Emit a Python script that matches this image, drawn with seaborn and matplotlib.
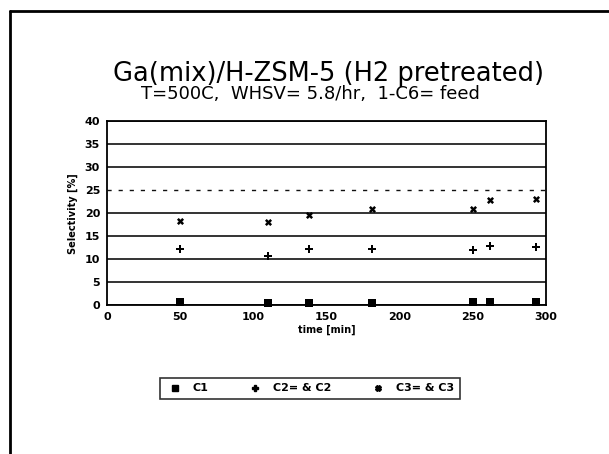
import matplotlib
matplotlib.use("Agg")
import matplotlib.pyplot as plt
from matplotlib.lines import Line2D
import seaborn as sns
import pandas as pd

# Sampling times (min)
time_min = [50, 110, 138, 181, 250, 262, 293]

# Selectivities (%)
c1 = [0.6, 0.5, 0.5, 0.5, 0.6, 0.6, 0.6]
c2 = [12.2, 10.8, 12.2, 12.2, 11.9, 12.9, 12.6]
c3 = [18.3, 18.2, 19.7, 20.9, 21.0, 22.9, 23.2]

series_names = ["C1", "C2= & C2", "C3= & C3"]
x_ticks = [0, 50, 100, 150, 200, 250, 300]
y_ticks = [0, 5, 10, 15, 20, 25, 30, 35, 40]

df = pd.DataFrame({
    "time": time_min * 3,
    "sel": c1 + c2 + c3,
    "series": [series_names[0]] * len(c1) + [series_names[1]] * len(c2) + [series_names[2]] * len(c3),
})

sns.set_style("white")
plt.rcParams["font.family"] = ["DejaVu Sans"]
plt.rcParams["text.color"] = "black"
plt.rcParams["axes.labelcolor"] = "black"

fig = plt.figure(figsize=(6.09, 4.54), dpi=100)
ax = fig.add_axes([0.1757, 0.328, 0.7209, 0.4044])

markers = {series_names[0]: "s", series_names[1]: "P", series_names[2]: "X"}
sizes = {series_names[0]: 32, series_names[1]: 28, series_names[2]: 26}
for name in series_names:
    sub = df[df["series"] == name]
    sns.scatterplot(data=sub, x="time", y="sel", ax=ax, color="black",
                    marker=markers[name], s=sizes[name], linewidth=0,
                    label=name, zorder=5, clip_on=False)

ax.set_xlim(0, 300)
ax.set_ylim(0, 40)
ax.set_xticks(x_ticks)
ax.set_yticks(y_ticks)
ax.tick_params(axis="both", direction="inout", length=6, width=1.2,
               labelsize=8, colors="black", pad=2)
for lab in ax.get_xticklabels() + ax.get_yticklabels():
    lab.set_fontweight("bold")

ax.yaxis.grid(True, color="#111111", linewidth=1.2)
ax.xaxis.grid(False)
gl = ax.yaxis.get_gridlines()
gl[5].set_linestyle((0, (3, 5)))
gl[5].set_linewidth(1.0)
ax.set_axisbelow(True)

for side in ["left", "bottom", "right", "top"]:
    ax.spines[side].set_visible(True)
    ax.spines[side].set_color("black")
    ax.spines[side].set_linewidth(1.3)

ax.set_xlabel("time [min]", fontsize=7, fontweight="bold", labelpad=2)
ax.set_ylabel("Selectivity [%]", fontsize=7, fontweight="bold", labelpad=5)

ax.get_legend().remove()
handles = [
    Line2D([], [], linestyle="none", marker="s", color="black", markersize=4),
    Line2D([], [], linestyle="none", marker="P", color="black", markersize=4),
    Line2D([], [], linestyle="none", marker="X", color="black", markersize=4),
]
leg = fig.legend(handles, series_names, loc="center", ncol=3,
                 bbox_to_anchor=(0.509, 0.1443), frameon=True, fancybox=False,
                 edgecolor="black", fontsize=8, columnspacing=3.4,
                 handletextpad=0.8, handlelength=1.6, borderpad=0.5)
leg.get_frame().set_linewidth(1.2)
for t in leg.get_texts():
    t.set_fontweight("bold")
    t.set_color("black")

fig.text(0.539, 0.838, "Ga(mix)/H-ZSM-5 (H2 pretreated)", ha="center", va="center",
         fontsize=18.5, color="black")
fig.text(0.509, 0.793, "T=500C,  WHSV= 5.8/hr,  1-C6= feed", ha="center", va="center",
         fontsize=13, color="black")

# Page frame (left and top edges)
x0 = 10 / 609
y0 = 1 - 11 / 454
fig.add_artist(Line2D([x0, x0], [0, y0], transform=fig.transFigure, color="black", linewidth=2.0))
fig.add_artist(Line2D([x0, 1], [y0, y0], transform=fig.transFigure, color="black", linewidth=2.0))

fig.savefig("out.png", dpi=100)
